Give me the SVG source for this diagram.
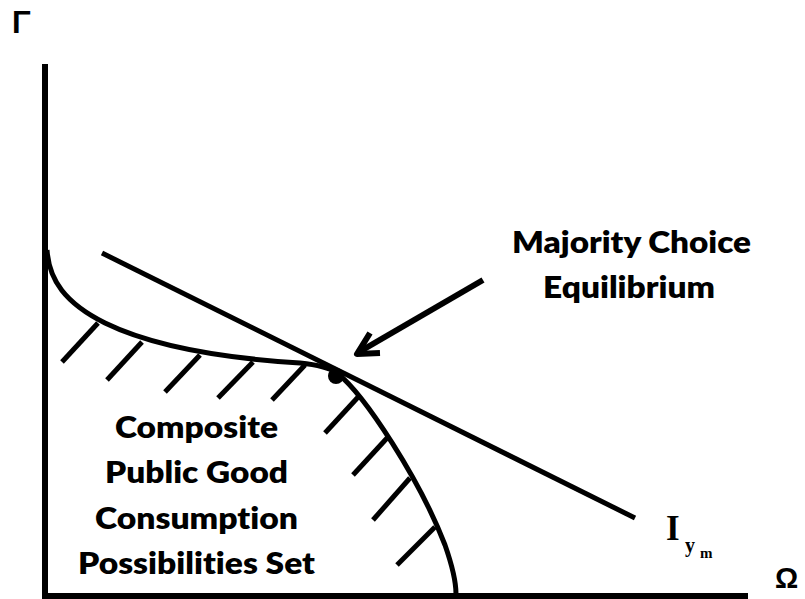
<svg xmlns="http://www.w3.org/2000/svg" width="805" height="599" viewBox="0 0 805 599">
<style>
.ln{fill:none;stroke:#000;stroke-linecap:butt;stroke-linejoin:round}
.lbl{font-family:Lato,"Open Sans","Liberation Sans",sans-serif;font-weight:800;font-size:31px;fill:#000;font-variant-ligatures:none;font-feature-settings:"liga" 0,"clig" 0}
.gr{font-family:"Liberation Sans","DejaVu Sans",sans-serif;font-weight:bold;fill:#000}
.tm{font-family:"Liberation Serif","Times New Roman",serif;font-weight:bold;fill:#000}
</style>
<rect width="805" height="599" fill="#fff"/>
<g id="axes">
<line class="ln" x1="45" y1="64" x2="45" y2="599" stroke-width="6"/>
<line class="ln" x1="42" y1="596" x2="748" y2="596" stroke-width="6"/>
<text class="gr" x="12" y="33" font-size="31">Γ</text>
<text class="gr" x="775" y="588" font-size="29">Ω</text>
</g>
<g id="possibilities-set">
<path class="ln" stroke-width="5" d="M47,250 C49,280 65,303 105,323 C150,345 220,358 300,363 C320,365 330,368 337,373 C365,395 420,480 445,545 C452,565 456,580 456,594"/>
<g class="ln" stroke-width="5">
<line x1="98" y1="323" x2="62" y2="362"/>
<line x1="142" y1="342" x2="107" y2="380"/>
<line x1="200" y1="355" x2="165" y2="392"/>
<line x1="253" y1="362" x2="218" y2="398"/>
<line x1="305" y1="365" x2="272" y2="400"/>
<line x1="360" y1="395" x2="325" y2="433"/>
<line x1="388" y1="437" x2="353" y2="475"/>
<line x1="410" y1="478" x2="373" y2="520"/>
<line x1="435" y1="527" x2="397" y2="565"/>
</g>
<text class="lbl" x="196.5" y="438" text-anchor="middle" textLength="163" lengthAdjust="spacingAndGlyphs">Composite</text>
<text class="lbl" x="196.5" y="483" text-anchor="middle" textLength="183" lengthAdjust="spacingAndGlyphs">Public Good</text>
<text class="lbl" x="196.5" y="529" text-anchor="middle" textLength="203" lengthAdjust="spacingAndGlyphs">Consumption</text>
<text class="lbl" x="196.5" y="574" text-anchor="middle" textLength="237" lengthAdjust="spacingAndGlyphs">Possibilities Set</text>
</g>
<g id="indifference-curve">
<line class="ln" stroke-width="5" x1="102" y1="253" x2="635" y2="518"/>
<text class="tm" x="666" y="540" font-size="35">I</text>
<text class="tm" x="685" y="552" font-size="20">y</text>
<text class="tm" x="700" y="558" font-size="15">m</text>
</g>
<g id="equilibrium">
<circle cx="336" cy="376" r="8" fill="#000"/>
<text class="lbl" x="631.5" y="253" text-anchor="middle" textLength="239" lengthAdjust="spacingAndGlyphs">Majority Choice</text>
<text class="lbl" x="629" y="298" text-anchor="middle" textLength="172" lengthAdjust="spacingAndGlyphs">Equilibrium</text>
</g>
<g id="connectors">
<line class="ln" stroke-width="6" stroke-linecap="round" x1="483" y1="280" x2="359" y2="352"/>
<polyline class="ln" stroke-width="6" stroke-linecap="round" points="370,333 357,354 380,353"/>
</g>
</svg>
